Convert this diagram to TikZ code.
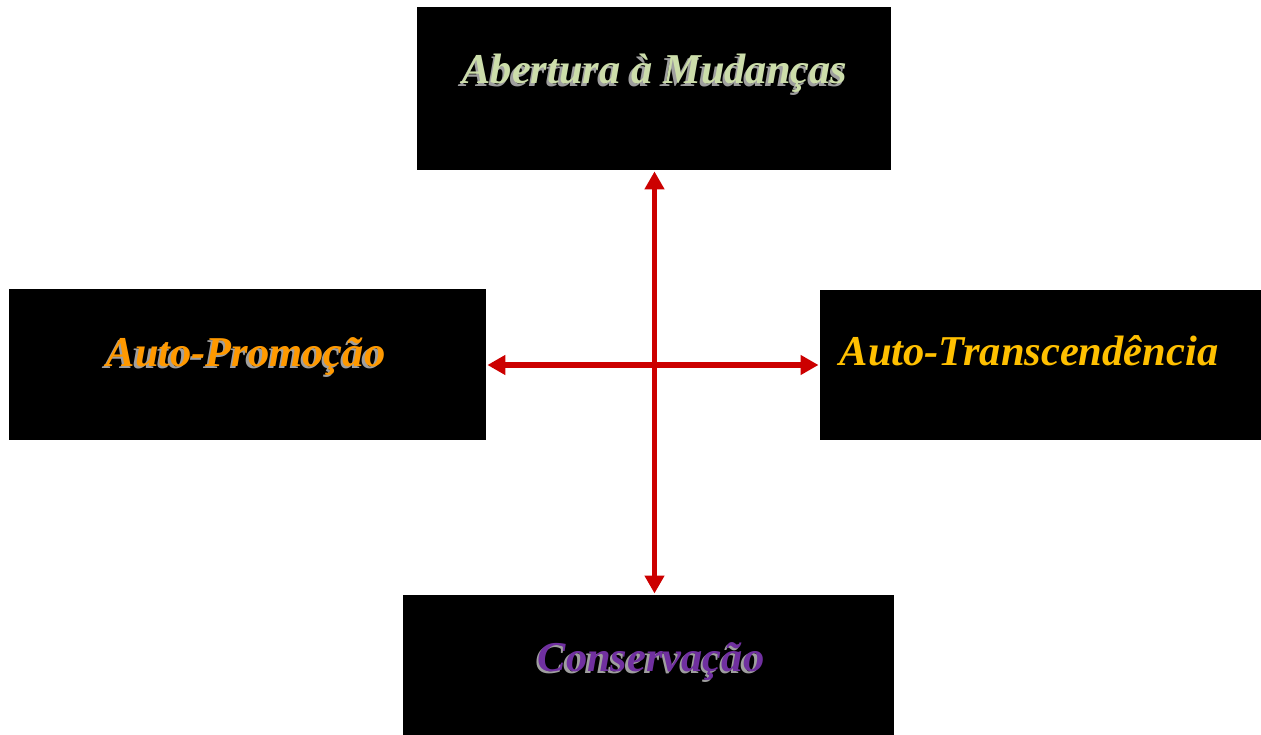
\documentclass[tikz,border=0pt]{standalone}
\usepackage{fontspec}
\setmainfont{Liberation Serif}
\usetikzlibrary{arrows.meta}
\definecolor{arrred}{RGB}{204,0,0}
\definecolor{txtgreen}{RGB}{204,221,170}
\definecolor{txtorange}{RGB}{255,153,0}
\definecolor{txtgold}{RGB}{255,192,0}
\definecolor{txtpurple}{RGB}{112,48,160}
\begin{document}
\begin{tikzpicture}[x=1pt,y=-1pt,
  blackbox/.style={fill=black,draw=none,inner sep=0pt,anchor=north west},
  label/.style={anchor=base,inner sep=0pt,font=\fontsize{42.5}{46}\selectfont\bfseries\itshape},
  shadowtxt/.style={label,text=gray!75},
  arr/.style={draw=arrred,line width=5.5pt,{Triangle[length=18pt,width=19pt]}-{Triangle[length=18pt,width=19pt]}}]
\useasboundingbox (0,0) rectangle (1261,735);
\fill[white] (0,0) rectangle (1261,735);
\node[blackbox,minimum width=474pt,minimum height=163pt] (top) at (417,7) {};
\node[blackbox,minimum width=477pt,minimum height=151pt] (left) at (9,289) {};
\node[blackbox,minimum width=441pt,minimum height=150pt] (right) at (820,290) {};
\node[blackbox,minimum width=491pt,minimum height=140pt] (bot) at (403,595) {};
\coordinate (c) at (654.5,365);
% texts
\node[shadowtxt] (tops) at (652.5,86.5) {Abertura à Mudanças};
\node[label,text=txtgreen] (toptxt) at (655,84) {Abertura à Mudanças};
\node[shadowtxt] (lefts) at (243.5,368.5) {Auto-Promoção};
\node[label,text=txtorange] (lefttxt) at (246,366) {Auto-Promoção};
\node[label,text=txtgold] (righttxt) at (1029,365) {Auto-Transcendência};
\node[shadowtxt] (bots) at (648.5,673.5) {Conservação};
\node[label,text=txtpurple] (bottxt) at (651,671) {Conservação};
% arrows
\draw[arr,shorten <=1pt,shorten >=1.5pt] (c |- top.south) -- (c |- bot.north);
\draw[arr,shorten <=1pt,shorten >=1.5pt] (left.east |- c) -- (right.west |- c);
\end{tikzpicture}
\end{document}
